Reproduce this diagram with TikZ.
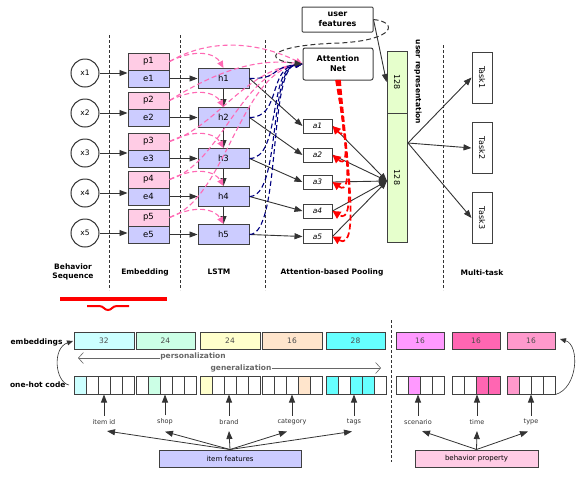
\documentclass[tikz,border=0pt]{standalone}
\usepackage{fontspec}
\setmainfont{DejaVu Sans}
\usetikzlibrary{arrows.meta}
\definecolor{bordc}{HTML}{404040}
\definecolor{dk}{HTML}{333333}
\definecolor{lav}{HTML}{CCCCFF}
\definecolor{pinkc}{HTML}{FFCCE5}
\definecolor{lgreen}{HTML}{E6FFCC}
\definecolor{hpink}{HTML}{FF69B4}
\definecolor{cA}{HTML}{CCFFFF}
\definecolor{cB}{HTML}{CCFFE6}
\definecolor{cC}{HTML}{FFFFCC}
\definecolor{cD}{HTML}{FFE5CC}
\definecolor{cE}{HTML}{66FFFF}
\definecolor{cF}{HTML}{FF99FF}
\definecolor{cG}{HTML}{FF66B2}
\definecolor{cH}{HTML}{FF99CC}
\begin{document}
\begin{tikzpicture}[x=1pt,y=-1pt,
  box/.style={draw=bordc, line width=1pt, inner sep=0pt, text=black},
  ebox/.style={box, fill=lav, minimum width=41pt, minimum height=17pt, font=\fontsize{8.5}{10}\selectfont},
  pbox/.style={ebox, fill=pinkc},
  hbox/.style={box, fill=lav, minimum width=51pt, minimum height=20pt, font=\fontsize{8.5}{10}\selectfont},
  abox/.style={box, fill=white, minimum width=29pt, minimum height=14pt, font=\fontsize{7.5}{9}\selectfont\itshape},
  xcirc/.style={circle, draw=dk, line width=1pt, minimum size=28pt, inner sep=0pt, font=\fontsize{7.5}{9}\selectfont},
  arr/.style={draw=dk, line width=0.9pt, -{Triangle[length=8pt,width=6pt]}},
  sep/.style={draw=dk, dashed, line width=0.5pt, dash pattern=on 3pt off 2pt},
  pinkd/.style={draw=hpink, line width=1.1pt, dash pattern=on 5pt off 3pt, -{Triangle[length=7pt,width=6pt]}},
  blued/.style={draw=blue!50!black, line width=1.1pt, dash pattern=on 5pt off 3pt, -{Triangle[length=7pt,width=6pt]}},
  redd/.style={draw=red, line width=1.7pt, dash pattern=on 6pt off 3pt, -{Triangle[length=8pt,width=8pt]}},
  lab/.style={font=\fontsize{7.5}{9}\selectfont\bfseries, align=center},
  emb/.style={box, minimum height=17pt, text=black!70, font=\fontsize{7.5}{9}\selectfont},
  cell/.style={box, minimum height=18pt, minimum width=12pt, fill=white},
  flab/.style={font=\fontsize{6.5}{8}\selectfont, text=black!80},
]
\useasboundingbox (0,0) rectangle (584,483);

% separators
\draw[sep] (109,35) -- (109,290);
\draw[sep] (180,35) -- (180,290);
\draw[sep] (265,40) -- (265,290);
\draw[sep] (443,45) -- (443,290);
\draw[sep] (391,320) -- (391,462);

% circles
\foreach \i/\y in {1/73,2/113,3/153,4/193,5/233}{
  \node[xcirc] (x\i) at (85,\y) {x\i};
}
% p/e/h boxes
\foreach \i/\t in {1/53,2/92,3/133,4/171,5/209}{
  \node[pbox] (p\i) at (148.5,\t+8.5) {p\i};
  \node[ebox] (e\i) at (148.5,\t+25.5) {e\i};
  \node[hbox] (h\i) at (223.5,\t+25.5) {h\i};
}
\foreach \i in {1,...,5}{
  \draw[arr] (x\i.east) -- (x\i.east -| p\i.west);
  \draw[arr] (e\i.east) -- (h\i.west);
}
\foreach \i/\j in {1/2,2/3,3/4,4/5}{
  \draw[arr] (h\i.south) -- (h\j.north);
}

% attention net, user features
\node[box, rounded corners=2pt, minimum width=70pt, minimum height=32pt, align=center, font=\fontsize{8}{10}\selectfont\bfseries] (attn) at (338,64) {Attention\\Net};
\node[box, rounded corners=1pt, minimum width=71pt, minimum height=25pt, align=center, font=\fontsize{8}{9.5}\selectfont\bfseries] (uf) at (337.5,19.5) {user\\features};

% a boxes
\foreach \i/\y in {1/126,2/155,3/182,4/211,5/236.5}{
  \node[abox] (a\i) at (317.5,\y) {a\i};
}
% user representation
\node[box, fill=lgreen, minimum width=20pt, minimum height=62pt] (ur1) at (397,82) {};
\node[rotate=-90, font=\fontsize{8}{9}\selectfont] at (ur1) {128};
\node[box, fill=lgreen, minimum width=20pt, minimum height=129pt] (ur2) at (397,177.5) {};
\node[rotate=-90, font=\fontsize{8}{9}\selectfont] at (ur2) {128};
\node[rotate=-90, font=\fontsize{7.5}{9}\selectfont\bfseries] (urlab) at (418,82) {user representation};
\coordinate (conv) at (387,181);
\coordinate (uro) at (408,143);

% tasks
\foreach \i/\y in {1/77.5,2/148,3/218}{
  \node[box, fill=white, minimum width=20pt, minimum height=51pt] (t\i) at (482,\y) {};
  \node[rotate=-90, font=\fontsize{8}{9}\selectfont] at (t\i) {Task\i};
  \draw[arr] (uro) -- (t\i.west);
}

% h -> a, a -> conv
\foreach \i in {1,...,5}{
  \draw[arr] (h\i.east) -- (a\i.west);
  \draw[arr] (a\i.east) -- (conv);
}
\draw[arr] (uf.east) -- (ur1.west);

% pink dashed p -> h
\foreach \i in {1,...,5}{
  \draw[pinkd] (p\i.east) .. controls ([shift={(28,-14)}]p\i.east) and ([shift={(-8,-14)}]h\i.north) .. (h\i.north);
}
% pink dashed p -> attention
\draw[pinkd] (p1.east) .. controls (215,35) and (265,45) .. (attn.west);
\draw[pinkd] (p2.east) .. controls (215,72) and (255,58) .. (attn.west);
\draw[pinkd] (p3.east) .. controls (215,128) and (245,70) .. (attn.west);
\draw[pinkd] (p4.east) .. controls (220,165) and (240,72) .. (attn.west);
\draw[pinkd] (p5.east) .. controls (225,200) and (240,74) .. (attn.west);

% blue dashed h -> attention
\foreach \i in {1,...,5}{
  \draw[blued] (h\i.east) .. controls ([xshift=32pt]h\i.east) and (268,68) .. (attn.west);
}

% black dashed loop from user features
\draw[draw=dk, line width=1pt, dash pattern=on 5pt off 3pt, -{Triangle[length=8pt,width=6pt]}]
  (uf.east) .. controls (398,22) and (396,40) .. (340,43) .. controls (268,45) and (262,60) .. (attn.west);

% red dashed attention -> a
\foreach \i/\y/\s/\c in {1/126/336/348,2/155/337/352,3/182/338/355,4/211/339/358,5/236.5/340/361}{
  \draw[redd] (\s,80) .. controls (\s+6,{100+0.35*(\y-80)}) and (\c,\y+16) .. (a\i.east);
}

% layer labels
\node[lab] at (73,272) {Behavior\\Sequence};
\node[lab] at (145,272) {Embedding};
\node[lab] at (219,272) {LSTM};
\node[lab] at (332,272) {Attention-based Pooling};
\node[lab] at (482,273) {Multi-task};

% red brace
\draw[red, line width=3.5pt] (60,299) -- (167,299);
\draw[red, line width=2pt] (87,306) -- (99,306) .. controls (104,306) and (104,310) .. (108,310) .. controls (112,310) and (112,306) .. (117,306) -- (129,306);

% ---------- bottom part ----------
\node[emb, fill=cA, minimum width=60pt] (m1) at (104,340.5) {32};
\node[emb, fill=cB, minimum width=59pt] (m2) at (165.5,340.5) {24};
\node[emb, fill=cC, minimum width=60pt] (m3) at (230,340.5) {24};
\node[emb, fill=cD, minimum width=60pt] (m4) at (292,340.5) {16};
\node[emb, fill=cE, minimum width=59pt] (m5) at (355.5,340.5) {28};
\node[emb, fill=cF, minimum width=48pt] (m6) at (420,340.5) {16};
\node[emb, fill=cG, minimum width=48pt] (m7) at (476,340.5) {16};
\node[emb, fill=cH, minimum width=48pt] (m8) at (531,340.5) {16};

% one-hot cells
\foreach \g/\x/\n in {1/74/5,2/136/5,3/200/5,4/262/5,5/326/5,6/396/4,7/452/4,8/507/4}{
  \foreach \j in {1,...,\n}{
    \node[cell] (g\g c\j) at ({\x+12*(\j-0.5)},385) {};
  }
}
\node[cell, fill=cA] at (g1c1) {};
\node[cell, fill=cB] at (g2c2) {};
\node[cell, fill=cC] at (g3c1) {};
\node[cell, fill=cD] at (g4c4) {};
\node[cell, fill=cE] at (g5c1) {};
\node[cell, fill=cE] at (g5c3) {};
\node[cell, fill=cE] at (g5c4) {};
\node[cell, fill=cF] at (g6c2) {};
\node[cell, fill=cG] at (g7c3) {};
\node[cell, fill=cG] at (g7c4) {};
\node[cell, fill=cH] at (g8c1) {};

\node[font=\fontsize{7.5}{9}\selectfont\bfseries, anchor=east] (emblab) at (66,342) {embeddings};
\node[font=\fontsize{7.5}{9}\selectfont\bfseries, anchor=east] (ohlab) at (69,385) {one-hot code};
\draw[draw=dk, line width=0.6pt, -{Triangle[length=6pt,width=5pt]}] (ohlab.east) .. controls (55,382) and (52,348) .. (73,341);
\draw[draw=dk, line width=0.6pt, -{Triangle[length=6pt,width=5pt]}] (g8c4.south east) .. controls (578,388) and (580,345) .. (560,339);

% personalization / generalization
\node[font=\fontsize{7.5}{9}\selectfont\bfseries, text=black!60, inner sep=0pt] (pers) at (193,356) {personalization};
\node[font=\fontsize{7.5}{9}\selectfont\bfseries, text=black!60, inner sep=0pt] (gen) at (241,368) {generalization};
\coordinate (persend) at (78,358);
\coordinate (genend) at (381,368);
\draw[draw=black!60, line width=0.6pt, -{Straight Barb[length=5pt,width=11pt]}] (pers.west |- persend) -- (persend);
\draw[draw=black!60, line width=0.6pt, -{Straight Barb[length=5pt,width=11pt]}] (gen.east |- genend) -- (genend);

% feature labels
\foreach \n/\x/\t in {fid/104/item id,fsh/165/shop,fbr/229/brand,fca/292/category,fta/354/tags,fsc/418/scenario,fti/477/time,fty/531/type}{
  \node[flab] (\n) at (\x,422) {\t};
  \draw[arr, line width=0.8pt] (\n.north) -- (\n.north |- g1c1.south);
}
\node[box, fill=lav, minimum width=142pt, minimum height=17pt, font=\fontsize{7}{8}\selectfont] (if) at (230,458.5) {item features};
\node[box, fill=pinkc, minimum width=123pt, minimum height=17pt, font=\fontsize{7}{8}\selectfont] (bp) at (476.5,458.5) {behavior property};
\foreach \n/\dx in {fid/3,fsh/0,fbr/0,fca/-5,fta/-2}{
  \draw[arr, line width=0.8pt] (if.north) -- ([shift={(\dx pt,-3pt)}]\n.south);
}
\foreach \n/\dx in {fsc/4,fti/0,fty/-3}{
  \draw[arr, line width=0.8pt] (bp.north) -- ([shift={(\dx pt,-3pt)}]\n.south);
}
\end{tikzpicture}
\end{document}
